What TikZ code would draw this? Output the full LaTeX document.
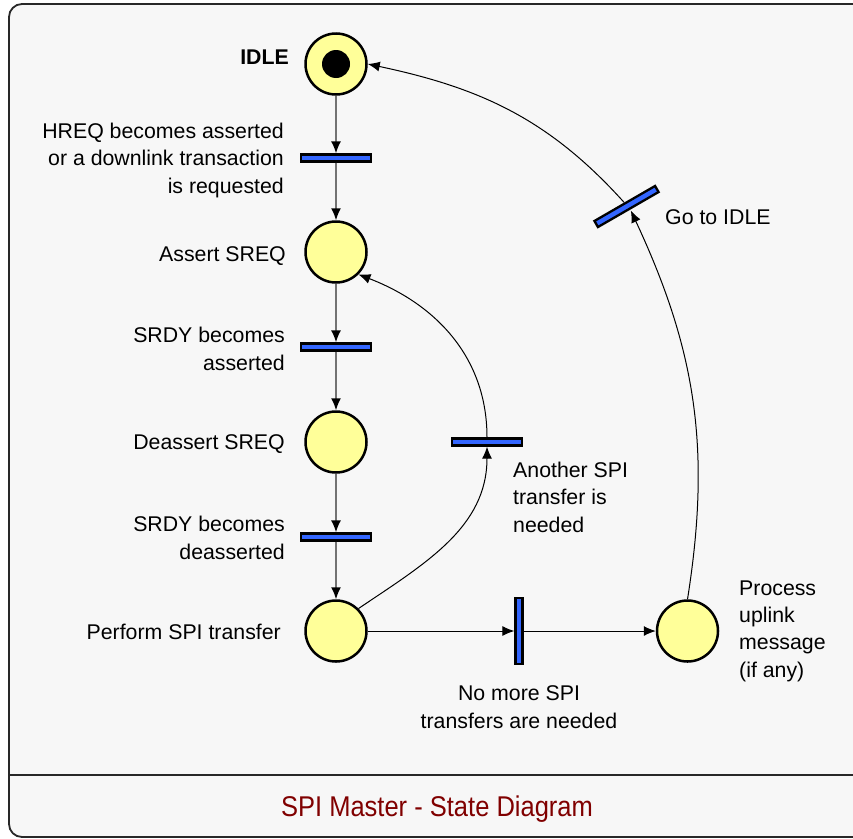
\documentclass[tikz,border=0pt]{standalone}
\usepackage{fontspec}
\setmainfont{Liberation Sans}
\usetikzlibrary{arrows.meta}
\definecolor{bgc}{RGB}{247,247,247}
\definecolor{placec}{RGB}{255,255,153}
\definecolor{barc}{RGB}{51,102,255}
\definecolor{titlec}{RGB}{128,0,0}
\definecolor{framec}{RGB}{40,40,40}
\tikzset{
  place/.style={circle, draw=black, fill=placec, line width=2.5pt, minimum size=61pt, inner sep=0pt},
  hbar/.style={rectangle, draw=black, fill=barc, line width=2.3pt, minimum width=70pt, minimum height=7pt, inner sep=0pt},
  vbar/.style={rectangle, draw=black, fill=barc, line width=2.3pt, minimum width=7pt, minimum height=66pt, inner sep=0pt},
  lbl/.style={inner sep=0pt, font=\fontsize{21.3}{27.3}\selectfont},
  arr/.style={line width=1pt, draw=black, -{Latex[length=12pt,width=10pt]}},
  garr/.style={line width=1.5pt, draw=black!55, -{Latex[length=12pt,width=10pt,fill=black,color=black]}},
}
\begin{document}
\begin{tikzpicture}[x=1pt,y=-1pt]
\useasboundingbox (0,0) rectangle (853,838);
\clip (0,0) rectangle (853,838);
\fill[white] (0,0) rectangle (853,838);
\draw[framec, line width=1.8pt, fill=bgc, rounded corners=13pt] (9,4) rectangle (868,837);
\draw[framec, line width=1.8pt] (9,775) -- (868,775);

% places
\node[place] (idle) at (336,64) {};
\fill[black] (idle.center) circle (14pt);
\node[place] (assert) at (336,252) {};
\node[place] (deassert) at (336,442) {};
\node[place] (perf) at (336,631) {};
\node[place] (proc) at (687.5,631) {};

% transitions
\node[hbar] (t1) at (336,158) {};
\node[hbar] (t2) at (336,347) {};
\node[hbar] (t3) at (336,537) {};
\node[hbar] (another) at (487,442) {};
\node[vbar] (nomore) at (519,631) {};
\node[hbar, rotate=30] (goto) at (626.5,206.5) {};

% connectors
\draw[garr] (idle) -- (t1);
\draw[garr] (t1) -- (assert);
\draw[garr] (assert) -- (t2);
\draw[garr] (t2) -- (deassert);
\draw[garr] (deassert) -- (t3);
\draw[garr] (t3) -- (perf);
\draw[arr] (perf) -- (nomore);
\draw[arr] (nomore) -- (proc);
\draw[arr] (perf.45) to[out=34,in=-90] (another.south);
\draw[arr] (another.north) to[out=90,in=-21] (assert.-45);
\draw[arr] (proc.north) to[out=81,in=-65] ([xshift=2pt]goto.south);
\draw[arr] (goto.north) to[out=132,in=-12] (idle.east);

% labels (base anchor = baseline of the last line)
\node[lbl, anchor=base east, font=\fontsize{21.3}{27.3}\selectfont\bfseries] (lidle) at (289,64) {IDLE};
\node[lbl, anchor=base east, align=right] (lt1) at (284,193) {HREQ becomes asserted\\or a downlink transaction\\is requested};
\node[lbl, anchor=base east] (lassert) at (286,261) {Assert SREQ};
\node[lbl, anchor=base east, align=right] (lt2) at (285,370) {SRDY becomes\\asserted};
\node[lbl, anchor=base east] (ldeassert) at (285,449) {Deassert SREQ};
\node[lbl, anchor=base east, align=right] (lt3) at (285,559) {SRDY becomes\\deasserted};
\node[lbl, anchor=base east] (lperf) at (281,639) {Perform SPI transfer};
\node[lbl, anchor=base west] (lgoto) at (665,224) {Go to IDLE};
\node[lbl, anchor=base west, align=left] (lanother) at (513,532) {Another SPI\\transfer is\\needed};
\node[lbl, anchor=base, align=center] (lnomore) at (519,728) {No more SPI\\transfers are needed};
\node[lbl, anchor=base west, align=left] (lproc) at (739,677) {Process\\uplink\\message\\(if any)};
\node[inner sep=0pt, anchor=base, text=titlec, font=\fontsize{25.5}{30}\selectfont] (title) at (437,816) {\scalebox{1}[1.12]{SPI Master - State Diagram}};
\end{tikzpicture}
\end{document}
